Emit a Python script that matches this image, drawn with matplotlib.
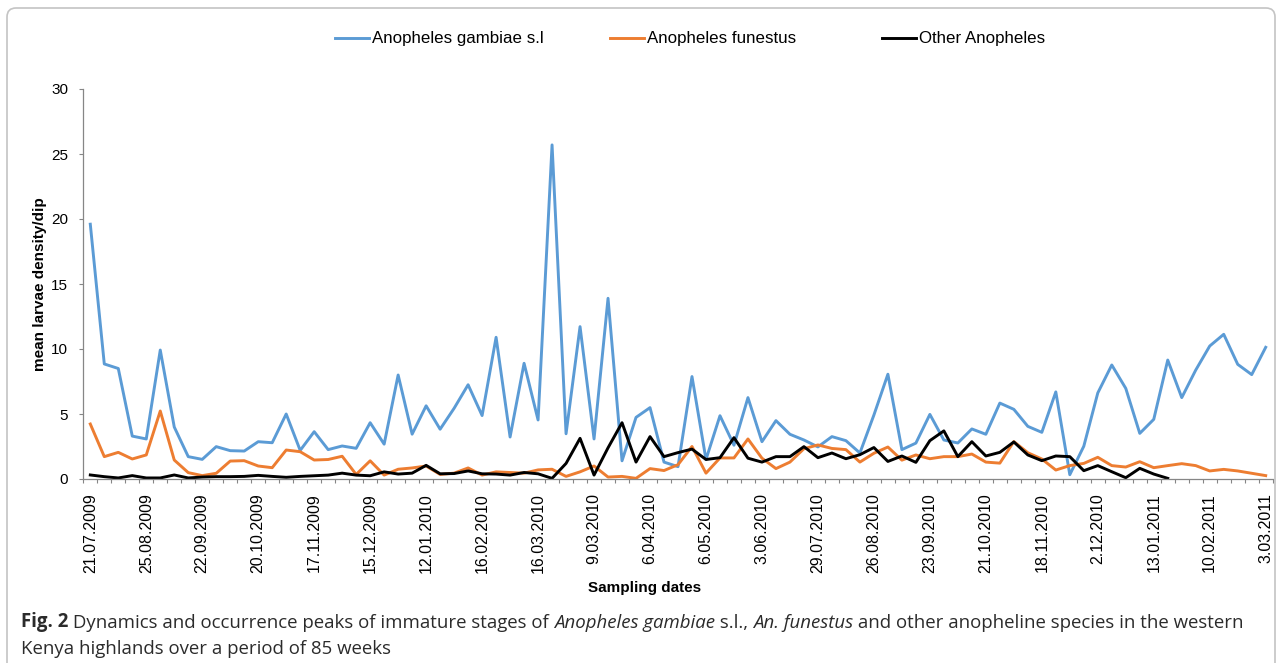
import matplotlib.pyplot as plt
from matplotlib.lines import Line2D
from matplotlib.patches import FancyBboxPatch
import numpy as np

# weekly sampling dates (label every 4th week, as in the figure)
dates = ["21.07.2009", "25.08.2009", "22.09.2009", "20.10.2009", "17.11.2009",
         "15.12.2009", "12.01.2010", "16.02.2010", "16.03.2010", "9.03.2010",
         "6.04.2010", "6.05.2010", "3.06.2010", "29.07.2010", "26.08.2010",
         "23.09.2010", "21.10.2010", "18.11.2010", "2.12.2010", "13.01.2011",
         "10.02.2011", "3.03.2011"]

# mean larvae density/dip, one value per week
gambiae = [19.6, 8.85, 8.5, 3.3, 3.08, 9.92, 4.0, 1.72, 1.51, 2.49,
           2.18, 2.15, 2.87, 2.79, 5.0, 2.2, 3.64, 2.26, 2.54, 2.36,
           4.33, 2.68, 8.0, 3.45, 5.63, 3.83, 5.44, 7.25, 4.88, 10.9,
           3.23, 8.9, 4.54, 25.7, 3.48, 11.72, 3.08, 13.9, 1.4, 4.74,
           5.49, 1.3, 0.95, 7.88, 1.5, 4.87, 2.6, 6.26, 2.87, 4.49,
           3.44, 3.0, 2.47, 3.26, 2.95, 2.0, 4.92, 8.06, 2.26, 2.76,
           4.97, 3.0, 2.77, 3.85, 3.44, 5.84, 5.36, 4.05, 3.59, 6.7,
           0.33, 2.52, 6.62, 8.77, 6.97, 3.51, 4.59, 9.15, 6.26, 8.38,
           10.23, 11.13, 8.82, 8.03, 10.13]

funestus = [4.23, 1.72, 2.05, 1.54, 1.85, 5.23, 1.46, 0.49, 0.26, 0.44,
            1.38, 1.41, 1.0, 0.87, 2.23, 2.1, 1.46, 1.5, 1.75, 0.35,
            1.4, 0.3, 0.75, 0.85, 1.0, 0.35, 0.45, 0.85, 0.3, 0.55,
            0.5, 0.45, 0.7, 0.75, 0.2, 0.55, 1.0, 0.15, 0.2, 0.05,
            0.8, 0.65, 1.1, 2.5, 0.45, 1.62, 1.62, 3.08, 1.6, 0.8,
            1.3, 2.33, 2.62, 2.35, 2.26, 1.3, 1.98, 2.46, 1.45, 1.85,
            1.56, 1.72, 1.72, 1.92, 1.3, 1.22, 2.88, 2.02, 1.54, 0.69,
            1.03, 1.2, 1.67, 1.03, 0.92, 1.33, 0.87, 1.03, 1.18, 1.03,
            0.62, 0.74, 0.62, 0.44, 0.26]

other = [0.31, 0.18, 0.08, 0.26, 0.08, 0.08, 0.31, 0.08, 0.15, 0.18,
         0.18, 0.2, 0.28, 0.2, 0.13, 0.2, 0.25, 0.3, 0.45, 0.3,
         0.25, 0.55, 0.38, 0.45, 1.05, 0.4, 0.42, 0.62, 0.4, 0.38,
         0.3, 0.5, 0.4, 0.05, 1.2, 3.13, 0.3, 2.4, 4.33, 1.3,
         3.26, 1.72, 2.03, 2.3, 1.5, 1.64, 3.18, 1.6, 1.3, 1.72,
         1.72, 2.49, 1.64, 2.0, 1.56, 1.87, 2.42, 1.35, 1.77, 1.28,
         2.95, 3.7, 1.72, 2.87, 1.77, 2.05, 2.85, 1.85, 1.41, 1.77,
         1.72, 0.64, 1.03, 0.56, 0.1, 0.82, 0.38, 0.05]

series = [("Anopheles gambiae s.l", gambiae, "#5B9BD5"),
          ("Anopheles funestus", funestus, "#ED7D31"),
          ("Other Anopheles", other, "#000000")]

W, H = 1282, 663
plt.rcParams['font.family'] = ['Liberation Sans', 'DejaVu Sans']
fig = plt.figure(figsize=(W / 100, H / 100), dpi=100)

# rounded frame around the whole figure
fig.patches.append(FancyBboxPatch((7, -30), W - 14, H - 8 + 30,
                                  boxstyle="round,pad=0,rounding_size=9",
                                  transform=None, fc='none', ec='#c4c4c4', lw=1.2))

ax = fig.add_axes([83.3 / W, 1 - 479 / H, (1272.7 - 83.3) / W, (479 - 89) / H])
n = len(gambiae)
for name, vals, col in series:
    ax.plot(np.arange(len(vals)), vals, color=col, lw=2.1, label=name)

ax.set_xlim(-0.5, n - 0.5)
ax.set_ylim(0, 30)
ax.set_yticks(range(0, 31, 5))
ax.set_xticks(np.arange(0, n, 4))
ax.set_xticklabels(dates, rotation=90, fontsize=11.5)
ax.set_xticks(np.arange(-0.5, n, 1), minor=True)
ax.tick_params(axis='x', which='major', length=0, pad=10)
ax.tick_params(axis='x', which='minor', length=3, color='#868686', width=0.8)
ax.tick_params(axis='y', length=3, color='#868686', width=0.8, pad=8, labelsize=11)
for s in ['top', 'right']:
    ax.spines[s].set_visible(False)
for s in ['left', 'bottom']:
    ax.spines[s].set_color('#868686')
    ax.spines[s].set_linewidth(0.9)

fig.text(40 / W, 1 - 284 / H, "mean larvae density/dip", rotation=90, ha='center',
         va='center', fontsize=11, fontweight='bold')
fig.text(645 / W, 1 - 588 / H, "Sampling dates", ha='center', va='center',
         fontsize=11, fontweight='bold')

# legend above the plot
leg_x = [335, 610, 882]
for (name, vals, col), x0 in zip(series, leg_x):
    fig.add_artist(Line2D([x0 / W, (x0 + 34) / W], [1 - 38 / H] * 2, color=col, lw=2.1,
                          transform=fig.transFigure))
    fig.text((x0 + 37) / W, 1 - 38 / H, name, ha='left', va='center', fontsize=12.2)

# caption with mixed styles, pieces chained one after the other
cap = ['Open Sans', 'DejaVu Sans']
ccol = '#2b2b2b'
cfs = 13.4
line1 = [("Fig. 2", 'bold', 'normal'),
         (" Dynamics and occurrence peaks of immature stages of ", 'normal', 'normal'),
         ("Anopheles gambiae", 'normal', 'italic'),
         (" s.l., ", 'normal', 'normal'),
         ("An. funestus", 'normal', 'italic'),
         (" and other anopheline species in the western", 'normal', 'normal')]
prev = fig.text(21 / W, 1 - 632 / H, "", fontsize=cfs, family=cap, va='bottom')
for txt, wt, st in line1:
    prev = ax.annotate(txt, xy=(1, 0), xycoords=prev, ha='left', va='bottom',
                       fontsize=cfs, fontweight=wt, fontstyle=st, family=cap,
                       color=ccol, annotation_clip=False)
fig.text(21 / W, 1 - 658 / H, "Kenya highlands over a period of 85 weeks", fontsize=cfs,
         family=cap, color=ccol, ha='left', va='bottom')

fig.savefig("out.png", dpi=100)
